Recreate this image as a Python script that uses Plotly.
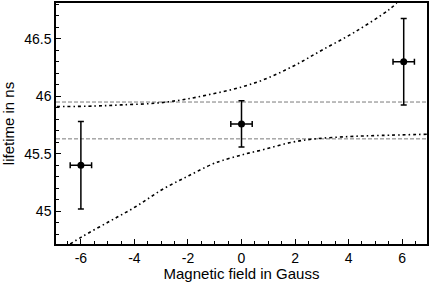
import plotly.graph_objects as go

# measured data
field = [-6.0, 0.0, 6.06]
lifetime = [45.40, 45.76, 46.30]
lifetime_err = [0.38, 0.20, 0.375]
field_err = [0.4, 0.4, 0.4]

# reference levels (dashed)
ref_levels = [45.95, 45.63]

# theory curves
upper_x = [-6.9, -5.5, -4.5, -3.2, -2.2, -1.1, 0.0, 1.0, 2.0, 3.0, 4.25, 5.5, 5.8]
upper_y = [45.91, 45.915, 45.925, 45.94, 45.97, 46.02, 46.08, 46.16, 46.27, 46.40, 46.56, 46.75, 46.81]
lower_x = [-6.4, -5.96, -4.96, -3.96, -2.96, -1.97, -1.1, -0.74, 0.0, 0.87, 1.87, 2.75, 4.0, 5.25, 6.93]
lower_y = [44.717, 44.78, 44.91, 45.04, 45.19, 45.31, 45.41, 45.44, 45.49, 45.54, 45.60, 45.63, 45.65, 45.66, 45.67]

# tick labels
x_tickvals = [-6, -4, -2, 0, 2, 4, 6]
x_ticktext = ["-6", "-4", "-2", "0", "2", "4", "6"]
y_tickvals = [45, 45.5, 46, 46.5]
y_ticktext = ["45", "45.5", "46", "46.5"]

x_range = [-6.93, 6.93]
y_range = [44.717, 46.81]

font = "Liberation Sans, Arial, Helvetica, sans-serif"
curve_dash = "3px,3px,1.5px,3px"

fig = go.Figure()

for lv in ref_levels:
    fig.add_trace(go.Scatter(x=x_range, y=[lv, lv], mode="lines",
                             line=dict(color="#7a7a7a", width=1, dash="4px,2px"),
                             hoverinfo="skip", showlegend=False))

fig.add_trace(go.Scatter(x=upper_x, y=upper_y, mode="lines",
                         line=dict(color="black", width=1.6, dash=curve_dash, shape="spline"),
                         showlegend=False))
fig.add_trace(go.Scatter(x=lower_x, y=lower_y, mode="lines",
                         line=dict(color="black", width=1.6, dash=curve_dash, shape="spline"),
                         showlegend=False))

fig.add_trace(go.Scatter(
    x=field, y=lifetime, mode="markers",
    marker=dict(color="black", size=7),
    error_y=dict(type="data", array=lifetime_err, color="black", thickness=1.5, width=3),
    error_x=dict(type="data", array=field_err, color="black", thickness=1.5, width=3),
    showlegend=False))

axis_common = dict(
    showline=True, linecolor="black", linewidth=1.5, mirror=True,
    ticks="inside", ticklen=5, tickwidth=1, tickcolor="black",
    showgrid=False, zeroline=False,
    tickfont=dict(family=font, size=14, color="black"),
)

fig.update_xaxes(range=x_range, tickmode="array", tickvals=x_tickvals, ticktext=x_ticktext,
                 minor=dict(dtick=0.5, tick0=0, ticks="inside", ticklen=3, tickcolor="black", showgrid=False),
                 title=dict(text="Magnetic field in Gauss", font=dict(family=font, size=15, color="black"), standoff=4),
                 **axis_common)
fig.update_yaxes(range=y_range, tickmode="array", tickvals=y_tickvals, ticktext=y_ticktext,
                 minor=dict(dtick=0.1, tick0=45, ticks="inside", ticklen=3, tickcolor="black", showgrid=False),
                 title=dict(text="lifetime in ns", font=dict(family=font, size=15, color="black"), standoff=6),
                 **axis_common)

fig.update_layout(
    width=430, height=282,
    margin=dict(l=56, r=1, t=1, b=38),
    paper_bgcolor="white", plot_bgcolor="white",
    font=dict(family=font, size=14, color="black"),
)

fig.write_html("out.html", config={"displayModeBar": False},
               post_script="document.body.style.margin='0';document.body.style.overflow='hidden';")
